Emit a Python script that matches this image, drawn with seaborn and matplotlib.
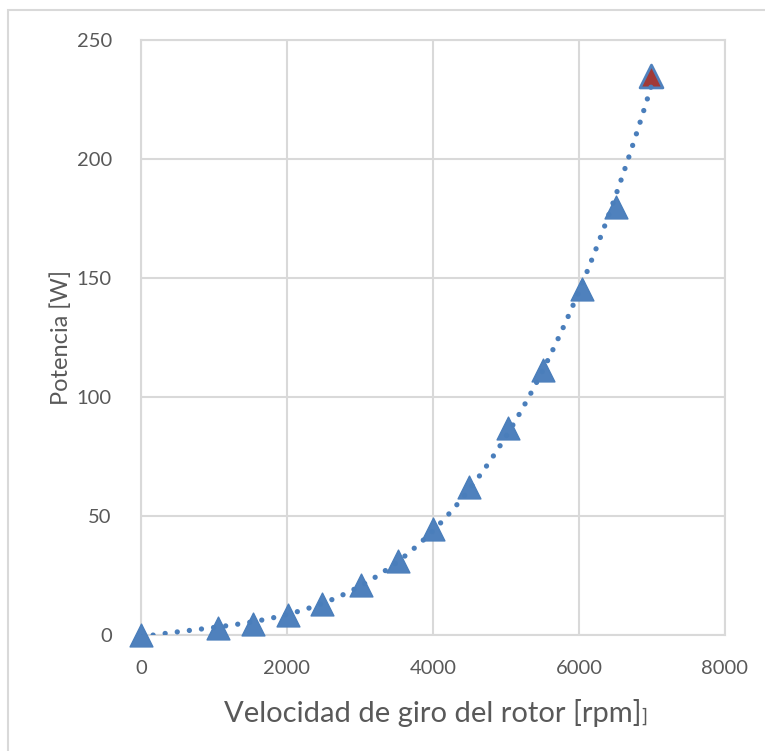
import numpy as np
import pandas as pd
import matplotlib
matplotlib.use("Agg")
import matplotlib.pyplot as plt
from matplotlib.patches import Rectangle
import seaborn as sns

# Rotor speed [rpm] and measured power [W]
rpm = [0, 1050, 1530, 2010, 2480, 3010, 3520, 4000, 4490, 5030, 5510, 6040, 6510, 6990]
power = [0, 2.8, 4.6, 8.3, 13.0, 21.0, 31.0, 44.5, 62.0, 87.0, 111.5, 145.5, 180.0, 235.0]

x_ticks = [0, 2000, 4000, 6000, 8000]
y_ticks = [0, 50, 100, 150, 200, 250]

x_title = "Velocidad de giro del rotor [rpm]"
y_title = "Potencia [W]"

df = pd.DataFrame({"rpm": rpm, "power": power})

sns.set_theme(style="white")
plt.rcParams["font.family"] = ["Lato", "DejaVu Sans"]

W, H = 765, 751
fig = plt.figure(figsize=(W / 100, H / 100), dpi=100)
ax = fig.add_axes([141 / W, (H - 635) / H, (725 - 141) / W, (635 - 40) / H])

# chart frame (top and left edges)
fig.patches.append(Rectangle((8 / W, -0.1), 1.2, (H - 10) / H + 0.1,
                             transform=fig.transFigure, fill=False,
                             edgecolor="#d9d9d9", linewidth=1.5, zorder=0))

blue = "#4f81bd"
edge = "#4a7ebb"

# markers
sns.scatterplot(data=df.iloc[:-1], x="rpm", y="power", marker="^", s=270,
                color=blue, edgecolor=edge, linewidth=1.0, ax=ax, zorder=3,
                clip_on=False)
sns.scatterplot(data=df.iloc[-1:], x="rpm", y="power", marker="^", s=270,
                color="#a13a37", edgecolor="#4f81bd", linewidth=2.0, ax=ax, zorder=3,
                clip_on=False)

# dotted cubic trend line
sns.regplot(data=df, x="rpm", y="power", order=3, ci=None, scatter=False,
            truncate=True, ax=ax,
            line_kws=dict(color="#4a7ebb", lw=3.8, linestyle=(0, (0.01, 2.3)),
                          dash_capstyle="round", zorder=4))

ax.set_xlim(0, 8000)
ax.set_ylim(0, 250)
ax.set_xticks(x_ticks)
ax.set_yticks(y_ticks)
ax.grid(True, color="#d9d9d9", linewidth=1.5)
ax.set_axisbelow(True)
for s in ax.spines.values():
    s.set_color("#d9d9d9")
    s.set_linewidth(1.5)

ax.tick_params(axis="both", length=0, labelsize=14.5, labelcolor="#595959")
ax.tick_params(axis="y", pad=21)
ax.tick_params(axis="x", pad=18)

ax.set_xlabel(x_title, fontsize=21, color="#595959", labelpad=16)
ax.set_ylabel(y_title, fontsize=17, color="#595959", labelpad=3)
ax.annotate("]", xy=(1, 0.08), xycoords=ax.xaxis.label, ha="left", va="bottom",
            fontsize=14, color="#595959")

fig.savefig("out.png", dpi=100)
